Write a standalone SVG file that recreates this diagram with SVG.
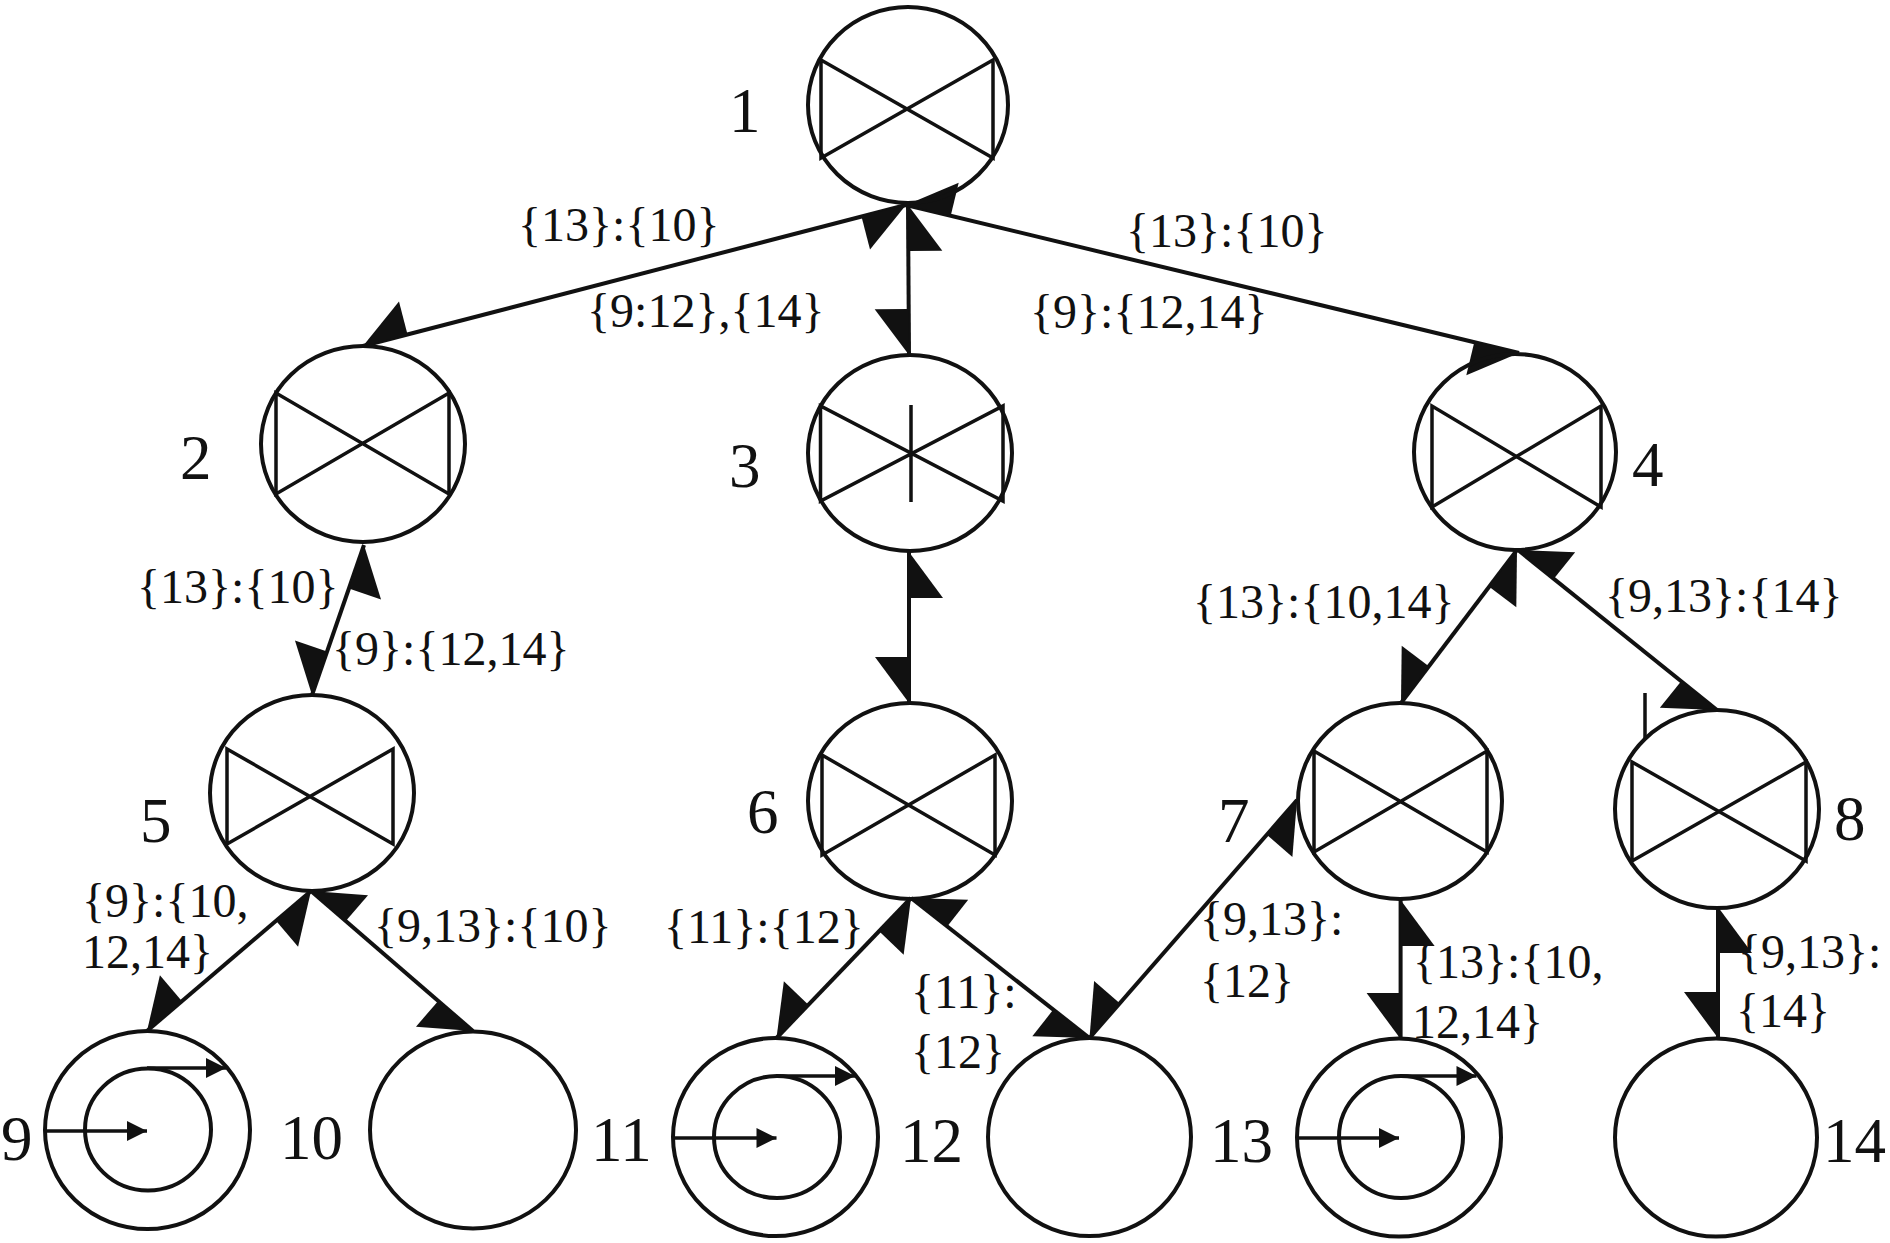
<svg xmlns="http://www.w3.org/2000/svg" width="1890" height="1243" viewBox="0 0 1890 1243">
<style>
.n{fill:none;stroke:#111;stroke-width:4}
.b{fill:none;stroke:#111;stroke-width:3.5;stroke-linejoin:miter}
.e{fill:none;stroke:#111;stroke-width:4;marker-start:url(#h);marker-end:url(#h)}
.s{fill:none;stroke:#111;stroke-width:3.5;marker-end:url(#a)}
.t{font-family:"Liberation Serif","Times New Roman",serif;font-size:63px;fill:#111}
.l{font-family:"Liberation Serif","Times New Roman",serif;font-size:48px;fill:#111}
</style>
<defs>
<marker id="h" markerUnits="userSpaceOnUse" viewBox="-60 -10 70 60" markerWidth="70" markerHeight="60" refX="0" refY="0" orient="auto-start-reverse">
<path d="M0,0 L-46,0 L-46,34 Z" fill="#111"/>
</marker>
<marker id="a" markerUnits="userSpaceOnUse" viewBox="-25 -15 30 30" markerWidth="30" markerHeight="30" refX="0" refY="0" orient="auto">
<path d="M0,0 L-20,-10 L-20,10 Z" fill="#111"/>
</marker>
</defs>
<rect width="1890" height="1243" fill="#fff"/>

<g id="connectors">
<line class="e" x1="906" y1="205" x2="363" y2="346"/>
<line class="e" x1="908" y1="205" x2="909" y2="355"/>
<line class="e" x1="906" y1="205" x2="1519" y2="353"/>
<line class="e" x1="364" y1="545" x2="312" y2="695"/>
<line class="e" x1="909" y1="552" x2="909" y2="703"/>
<line class="e" x1="1517" y1="550" x2="1401" y2="703"/>
<line class="e" x1="1518" y1="550" x2="1717" y2="710"/>
<line class="e" x1="311" y1="891" x2="147" y2="1031"/>
<line class="e" x1="311" y1="891" x2="473" y2="1031"/>
<line class="e" x1="911" y1="898" x2="776.5" y2="1038"/>
<line class="e" x1="911" y1="898" x2="1089.5" y2="1038"/>
<line class="e" x1="1297" y1="800" x2="1089.5" y2="1038"/>
<line class="e" x1="1400.6" y1="900" x2="1400.6" y2="1039"/>
<line class="e" x1="1718" y1="907" x2="1718" y2="1038"/>
</g>

<g id="node1">
<ellipse class="n" cx="908" cy="105" rx="100" ry="98"/>
<path class="b" d="M821,60 V158 L993,60 V158 Z"/>
<text class="t" x="729" y="132">1</text>
</g>
<g id="node2">
<ellipse class="n" cx="363" cy="444" rx="102" ry="98"/>
<path class="b" d="M276,393 V494 L449,393 V494 Z"/>
<text class="t" x="180" y="479">2</text>
</g>
<g id="node3">
<ellipse class="n" cx="910" cy="453" rx="102" ry="98"/>
<path class="b" d="M820.5,406 V501 L1003,406 V501 Z M911,405 V502"/>
<text class="t" x="729" y="487">3</text>
</g>
<g id="node4">
<ellipse class="n" cx="1515" cy="452" rx="101" ry="98"/>
<path class="b" d="M1432,406 V507 L1601,406 V507 Z"/>
<text class="t" x="1632" y="486">4</text>
</g>
<g id="node5">
<ellipse class="n" cx="312" cy="793" rx="102" ry="98"/>
<path class="b" d="M227,749 V844 L393,749 V844 Z"/>
<text class="t" x="140" y="842">5</text>
</g>
<g id="node6">
<ellipse class="n" cx="910" cy="801" rx="102" ry="98"/>
<path class="b" d="M822,755 V855 L995,755 V855 Z"/>
<text class="t" x="747" y="833">6</text>
</g>
<g id="node7">
<ellipse class="n" cx="1400" cy="801" rx="102" ry="98"/>
<path class="b" d="M1314,751 V852 L1487,751 V852 Z"/>
<text class="t" x="1218" y="842">7</text>
</g>
<g id="node8">
<ellipse class="n" cx="1717" cy="809" rx="102" ry="99"/>
<path class="b" d="M1632,762 V861 L1806,762 V861 Z M1645,693 V738"/>
<text class="t" x="1834" y="840">8</text>
</g>
<g id="node9">
<ellipse class="n" cx="147.5" cy="1130" rx="102.5" ry="99"/>
<ellipse class="n" cx="148" cy="1129.5" rx="63" ry="61"/>
<line class="s" x1="45" y1="1131" x2="147" y2="1131"/>
<line class="s" x1="147" y1="1068" x2="226" y2="1068"/>
<text class="t" x="1" y="1160">9</text>
</g>
<g id="node10">
<ellipse class="n" cx="473" cy="1130" rx="103" ry="98.5"/>
<text class="t" x="280" y="1159">10</text>
</g>
<g id="node11">
<ellipse class="n" cx="775.5" cy="1137" rx="102.5" ry="99"/>
<ellipse class="n" cx="777" cy="1137" rx="63" ry="61"/>
<line class="s" x1="673" y1="1138" x2="776.5" y2="1138"/>
<line class="s" x1="777" y1="1076" x2="855" y2="1076"/>
<text class="t" x="591" y="1161">11</text>
</g>
<g id="node12">
<ellipse class="n" cx="1089.5" cy="1137" rx="101.5" ry="99"/>
<text class="t" x="900" y="1162">12</text>
</g>
<g id="node13">
<ellipse class="n" cx="1399" cy="1137.5" rx="102" ry="99"/>
<ellipse class="n" cx="1401" cy="1137" rx="62" ry="61"/>
<line class="s" x1="1297" y1="1138" x2="1399" y2="1138"/>
<line class="s" x1="1401" y1="1076" x2="1476.5" y2="1076"/>
<text class="t" x="1210" y="1162">13</text>
</g>
<g id="node14">
<ellipse class="n" cx="1716" cy="1137.5" rx="101" ry="99"/>
<text class="t" x="1823" y="1162">14</text>
</g>

<g id="labels">
<text class="l" x="518" y="241">{13}:{10}</text>
<text class="l" x="587" y="327">{9:12},{14}</text>
<text class="l" x="1126" y="247">{13}:{10}</text>
<text class="l" x="1030" y="328">{9}:{12,14}</text>
<text class="l" x="137" y="603">{13}:{10}</text>
<text class="l" x="332" y="665">{9}:{12,14}</text>
<text class="l" x="1193" y="618">{13}:{10,14}</text>
<text class="l" x="1605" y="612">{9,13}:{14}</text>
<text class="l" x="82" y="917">{9}:{10,</text>
<text class="l" x="82" y="968">12,14}</text>
<text class="l" x="374" y="942">{9,13}:{10}</text>
<text class="l" x="664" y="943">{11}:{12}</text>
<text class="l" x="911" y="1008">{11}:</text>
<text class="l" x="911" y="1068">{12}</text>
<text class="l" x="1200" y="935">{9,13}:</text>
<text class="l" x="1200" y="997">{12}</text>
<text class="l" x="1413" y="978">{13}:{10,</text>
<text class="l" x="1412" y="1038">12,14}</text>
<text class="l" x="1738" y="968">{9,13}:</text>
<text class="l" x="1736" y="1027">{14}</text>
</g>
</svg>
